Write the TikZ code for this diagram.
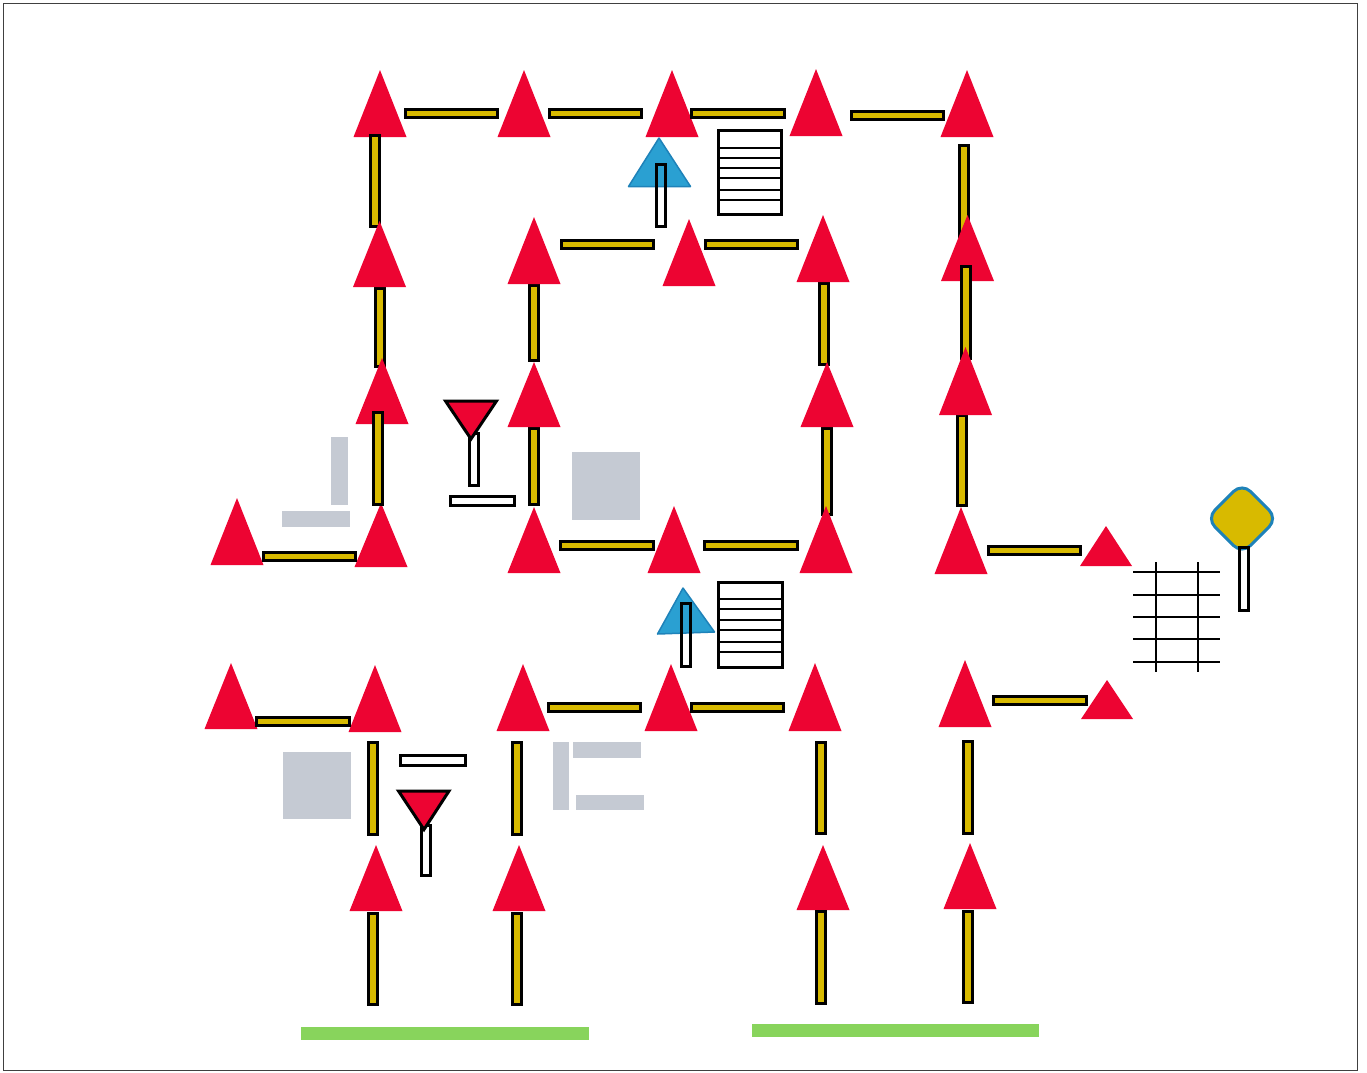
\documentclass[tikz,border=0pt]{standalone}
\usepackage{xcolor}
\usetikzlibrary{shapes.geometric, calc}
\definecolor{signred}{RGB}{237,4,50}
\definecolor{signyellow}{RGB}{216,186,0}
\definecolor{signblue}{RGB}{42,160,210}
\definecolor{edgeblue}{RGB}{30,130,185}
\definecolor{islandgray}{RGB}{197,202,211}
\definecolor{stopgreen}{RGB}{136,212,92}
\tikzset{
  head/.style={fill=signred, draw=none},
  bulb/.style={fill=signblue, draw=edgeblue, line width=1.5pt, line join=round},
  funnel/.style={fill=signred, draw=black, line width=3pt, line join=miter},
  polebar/.style={fill=signyellow, draw=black, line width=3pt},
  emptybar/.style={fill=white, draw=black, line width=3pt},
  island/.style={fill=islandgray, draw=none},
  verge/.style={fill=stopgreen, draw=none},
  rung/.style={draw=black, line width=2.5pt},
  rail/.style={draw=black, line width=2pt},
}
\begin{document}
\begin{tikzpicture}[x=1pt, y=-1pt]
  \useasboundingbox (0,0) rectangle (1367,1072);
  \draw[line width=1pt, black!75] (3,3) rectangle (1357,1070);
  % gray islands
  \foreach \xa/\ya/\xb/\yb in {331/437/348/505, 282/511/350/527, 572/452/640/520,
      283/752/351/819, 553/742/569/810, 573/742/641/758, 576/795/644/810}
    \fill[island] (\xa,\ya) rectangle (\xb,\yb);
  % green verges
  \fill[verge] (301,1027) rectangle (589,1040);
  \fill[verge] (752,1024) rectangle (1039,1037);
  % first pole and heads, the later ones lie over them
  \draw[polebar] (959,145.5) rectangle (968,236.5);
  \foreach \x/\ya/\yb in {380/70/137, 524/70/137, 672/70/137, 816/69/136, 967/70/137, 967.5/215/281}
    \fill[head] (\x,\ya) -- (\x+26.5,\yb) -- (\x-26.5,\yb) -- cycle;
  \foreach \x/\ya/\yb in {374.5/135.5/226.5, 966/266.5/358.5, 380/288.5/366.5, 534/285.5/360.5, 824/283.5/364.5,
      534/428.5/504.5, 827/428.5/514.5, 962/415.5/505.5}
    \draw[polebar] (\x-4.5,\ya) rectangle (\x+4.5,\yb);
  % red heads
  \foreach \x/\ya/\yb/\w in {379.5/221/287/26.5, 534/217/284/26.5, 689/219/286/26.5, 823/215/282/26.5,
      382/358/424/26.5, 534/362/427/26.5, 827/362/427/26.5, 965.5/347/415/26.5,
      237/498/565/26.5, 381/503/567/26.5, 534/507/573/26.5, 674/506/573/26.5, 826/506/573/26.5, 961/507/574/26.5,
      1106/526/566/26,
      231/663/729/26.5, 375/665/732/26.5, 523/664/731/26.5, 671/664/731/26.5, 815/663/731/26.5, 965/660/727/26.5,
      1107/680/719/26,
      376/845/911/26.5, 519/845/911/26.5, 823/845/910/26.5, 970/843/909/26.5}
    \fill[head] (\x,\ya) -- (\x+\w,\yb) -- (\x-\w,\yb) -- cycle;
  % poles over the heads
  \foreach \x/\ya/\yb in {378/412.5/504,
      373/742.5/834.5, 517/742.5/834.5, 821/742.5/833.5, 968/741.5/833.5,
      373/913.5/1004.5, 517/913.5/1004.5, 821/911.5/1003.5, 968/911.5/1002.5}
    \draw[polebar] (\x-4.5,\ya) rectangle (\x+4.5,\yb);
  % horizontal poles
  \foreach \xa/\xb/\y in {405.5/497.5/113, 549.5/641.5/113, 691.5/784.5/113, 851.5/943.5/115,
      561.5/653.5/244, 705.5/797.5/244, 263.5/355.5/556, 560.5/653.5/545, 704.5/797.5/545, 988.5/1080.5/550,
      993.5/1086.5/700, 256.5/349.5/721, 548.5/640.5/707, 691.5/783.5/707}
    \draw[polebar] (\xa,\y-4) rectangle (\xb,\y+4);
  % blue signs
  \draw[emptybar] (656,164.5) rectangle (665,226.5);
  \draw[bulb] (659,138) -- (690.5,186.5) -- (628.5,186.5) -- cycle;
  \draw[black, line width=3pt] (656,164.5) rectangle (665,226.5);
  \draw[emptybar] (681.5,603.5) rectangle (690.5,666.5);
  \draw[bulb] (683,588) -- (714.5,632) -- (657.5,634) -- cycle;
  \draw[black, line width=3pt] (681.5,603.5) rectangle (690.5,666.5);
  % red funnels
  \draw[emptybar] (469.5,433) rectangle (478.5,485.5);
  \draw[emptybar] (421.5,825) rectangle (430.5,875.5);
  \draw[funnel] (445.5,401) -- (496.5,401) -- (471,439) -- cycle;
  \draw[funnel] (398.5,791) -- (449,791) -- (424,829.5) -- cycle;
  % white bars
  \draw[emptybar] (450.5,496.5) rectangle (514.5,505.5);
  \draw[emptybar] (400.5,755) rectangle (465.5,765);
  % striped boxes
  \draw[rung, line width=3pt] (718,130.5) rectangle (781,214);
  \foreach \y in {148,158,168,178,190,200}
    \draw[rung] (718,\y) -- (781,\y);
  \draw[rung, line width=3pt] (718.5,582) rectangle (782,667);
  \foreach \y in {599,609,620,630,642,652}
    \draw[rung] (718.5,\y) -- (782,\y);
  % rails
  \foreach \x in {1155.7,1197.7}
    \draw[rail] (\x,562) -- (\x,672);
  \foreach \y in {571.7,595,617,639,661.7}
    \draw[rail] (1133,\y) -- (1220,\y);
  % end sign
  \draw[emptybar] (1239.5,547.5) rectangle (1248.5,610.5);
  \draw[fill=signyellow, draw=edgeblue, line width=3pt, rounded corners=12pt]
    (1242,483) -- (1277.5,518.5) -- (1242,554) -- (1206.5,518.5) -- cycle;
  \draw[black, line width=3pt] (1239.5,552) -- (1239.5,547.5) -- (1248.5,547.5) -- (1248.5,552);
\end{tikzpicture}
\end{document}
